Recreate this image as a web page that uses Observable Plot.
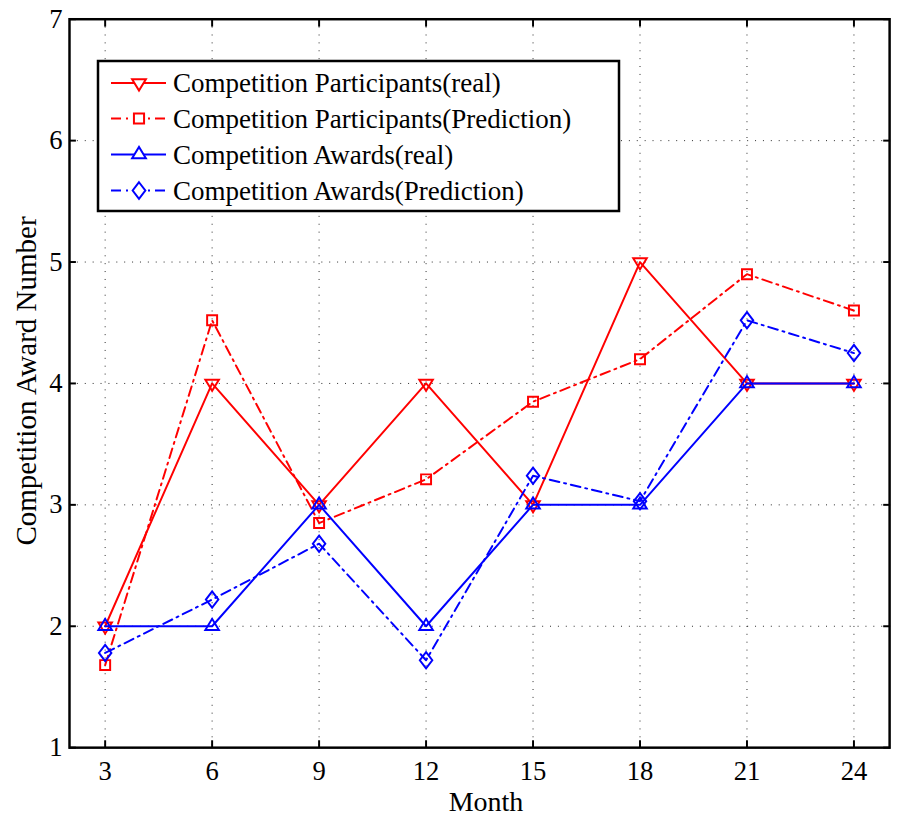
<!DOCTYPE html>
<html><head><meta charset="utf-8">
<script src="https://cdn.jsdelivr.net/npm/d3@7"></script>
<script src="https://cdn.jsdelivr.net/npm/@observablehq/plot@0.6"></script>
<style>
html,body{margin:0;padding:0;background:#fff;overflow:hidden;}
#wrap{position:relative;width:897px;height:819px;overflow:hidden;}
#wrap svg{display:block;}
#legend{position:absolute;left:0;top:0;pointer-events:none;}
</style></head><body><div id="wrap"></div>
<script>
const months = [3, 6, 9, 12, 15, 18, 21, 24];
const participantsReal = [2, 4, 3, 4, 3, 5, 4, 4];
const participantsPred = [1.68, 4.52, 2.85, 3.21, 3.85, 4.2, 4.9, 4.6];
const awardsReal = [2, 2, 3, 2, 3, 3, 4, 4];
const awardsPred = [1.78, 2.22, 2.68, 1.72, 3.24, 3.03, 4.52, 4.25];
const seriesNames = [
  "Competition Participants(real)",
  "Competition Participants(Prediction)",
  "Competition Awards(real)",
  "Competition Awards(Prediction)"
];
const xTicks = [3, 6, 9, 12, 15, 18, 21, 24];
const yTicks = [1, 2, 3, 4, 5, 6, 7];
const xLabel = "Month";
const yLabel = "Competition Award Number";

const FONT = "'Liberation Serif', 'Times New Roman', serif";

// custom marker shapes
const rOf = size => Math.sqrt(size / Math.PI);
const triDown = {draw(c, size){const r=rOf(size); const w=r*1.25, h=r*2.05; c.moveTo(-w,-h/3); c.lineTo(w,-h/3); c.lineTo(0,2*h/3); c.closePath();}};
const triUp = {draw(c, size){const r=rOf(size); const w=r*1.25, h=r*2.05; c.moveTo(-w,h/3); c.lineTo(w,h/3); c.lineTo(0,-2*h/3); c.closePath();}};
const sq = {draw(c, size){const r=rOf(size)*0.92; c.rect(-r,-r,2*r,2*r);}};
const dia = {draw(c, size){const r=rOf(size); const w=r*1.15, h=r*1.5; c.moveTo(0,-h); c.lineTo(w,0); c.lineTo(0,h); c.lineTo(-w,0); c.closePath();}};

const RED = "#ff0000", BLUE = "#0000ff";
const DASHDOT = "10,5,2,5";
const series = [
  {name: seriesNames[0], values: participantsReal, color: RED, dash: null, sym: triDown},
  {name: seriesNames[1], values: participantsPred, color: RED, dash: DASHDOT, sym: sq},
  {name: seriesNames[2], values: awardsReal, color: BLUE, dash: null, sym: triUp},
  {name: seriesNames[3], values: awardsPred, color: BLUE, dash: DASHDOT, sym: dia}
];

const seriesMarks = series.flatMap(s => {
  const rows = months.map((m, i) => ({month: m, value: s.values[i], series: s.name}));
  return [
    Plot.line(rows, {x: "month", y: "value", stroke: s.color, strokeWidth: 2, strokeDasharray: s.dash}),
    Plot.dot(rows, {x: "month", y: "value", symbol: s.sym, r: 5.5, stroke: s.color, strokeWidth: 2, fill: "none"})
  ];
});

const grid = {stroke: "#000", strokeOpacity: 0.85, strokeDasharray: "1,7", strokeWidth: 1};

const chart = Plot.plot({
  width: 910, height: 819,
  marginLeft: 70, marginRight: 8, marginTop: 19, marginBottom: 61,
  style: {fontFamily: FONT, fontSize: "27px", background: "#fff", color: "#000", overflow: "visible"},
  x: {domain: [2, 25]},
  y: {domain: [1, 7]},
  marks: [
    Plot.gridX(xTicks, grid),
    Plot.gridY(yTicks, grid),
    ...seriesMarks,
    Plot.frame({stroke: "#000", strokeWidth: 2.5}),
    Plot.axisX(xTicks, {anchor: "bottom", tickSize: -7, tickPadding: 21, strokeWidth: 2, fontSize: 27,
      tickFormat: d3.format("d"), label: null}),
    Plot.axisX(xTicks, {anchor: "top", tickSize: -7, strokeWidth: 2, tickFormat: () => "", label: null}),
    Plot.axisY(yTicks, {anchor: "left", tickSize: -7, tickPadding: 14, strokeWidth: 2, fontSize: 27,
      tickFormat: d3.format("d"), label: null}),
    Plot.axisY(yTicks, {anchor: "right", tickSize: -7, strokeWidth: 2, tickFormat: () => "", label: null})
  ]
});
const wrap = document.getElementById("wrap");
wrap.appendChild(chart);

// axis titles and legend overlay
const lg = d3.select(wrap).append("svg").attr("id", "legend").attr("width", 897).attr("height", 819);
lg.append("text").attr("x", 486).attr("y", 811).attr("text-anchor", "middle")
  .attr("font-family", FONT).attr("font-size", 28).attr("fill", "#000").text(xLabel);
lg.append("text").attr("transform", "translate(36,381) rotate(-90)").attr("text-anchor", "middle")
  .attr("font-family", FONT).attr("font-size", 29).attr("fill", "#000").text(yLabel);

const box = {x: 98, y: 61, w: 521, h: 150};
lg.append("rect").attr("x", box.x).attr("y", box.y).attr("width", box.w).attr("height", box.h)
  .attr("fill", "#fff").attr("stroke", "#000").attr("stroke-width", 2.5);
const rowY = [83, 118.5, 154.5, 190.5];
series.forEach((s, i) => {
  const y = rowY[i];
  lg.append("line").attr("x1", 111).attr("x2", 166).attr("y1", y).attr("y2", y)
    .attr("stroke", s.color).attr("stroke-width", 2).attr("stroke-dasharray", s.dash);
  lg.append("path").attr("d", d3.symbol(s.sym, Math.PI * 5.5 * 5.5)())
    .attr("transform", `translate(139,${y})`).attr("fill", "#fff").attr("stroke", s.color).attr("stroke-width", 2);
  lg.append("text").attr("x", 173).attr("y", y + 9).text(s.name)
    .attr("font-family", FONT).attr("font-size", 27).attr("fill", "#000");
});
</script></body></html>
